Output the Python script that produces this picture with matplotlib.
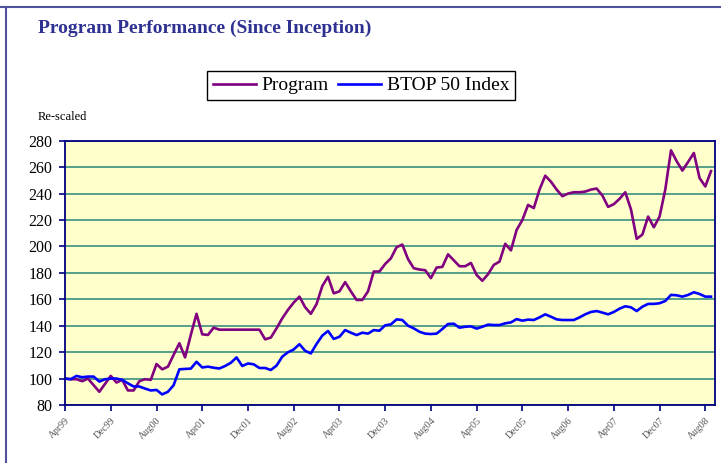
import matplotlib as ml
ml.use("Agg")
import matplotlib.pyplot as plt
from matplotlib.lines import Line2D
import numpy as np

################################################################################
# data (monthly, Apr99 - Sep08, re-scaled to 100)
################################################################################
program = [
    100, 99.5, 99.5, 98, 100, 95, 90, 96, 102, 97,
    99, 91, 91, 98, 99.5, 99, 111, 107, 109, 118,
    126.7, 116, 133, 149, 133.5, 133, 138.5, 137, 137, 137,
    137, 137, 137, 137, 137, 129.7, 131, 138, 145.6, 152,
    157.5, 162, 154, 149, 156.4, 170, 177, 164.5, 166, 173,
    166, 159.5, 159.5, 166, 181, 181, 186.7, 191, 199.4, 201.4,
    190.4, 183.5, 182.5, 182, 176, 184, 184.5, 194, 189.5, 185,
    185, 187.5, 178.4, 174, 179, 186, 188.5, 202, 197, 212.5,
    220, 231.4, 229, 243, 253.5, 249, 243, 238, 240, 241,
    241, 241.5, 243, 243.8, 238.5, 229.9, 232, 236, 241, 228,
    205.7, 209, 222.6, 214.5, 222.6, 243, 272.7, 264.4, 257.4, 264,
    270.7, 251.7, 245.4, 257,
]
btop = [
    100, 99.5, 102, 101, 101.5, 101.5, 97.7, 99.5, 100, 100,
    99, 96.4, 94, 94, 92.4, 91, 91.4, 88, 90, 95,
    107, 107.3, 107.5, 112.7, 108.4, 109, 108.2, 107.6, 109.5, 111.9,
    116, 109.5, 111.4, 110.8, 108, 108, 106.5, 109.8, 116.6, 119.9,
    122, 126, 121, 119, 126.2, 132.5, 136, 130, 131.6, 136.7,
    134.7, 132.9, 134.7, 134, 136.7, 136.2, 140.3, 141, 144.8, 144.3,
    140, 138, 135.4, 134, 133.7, 134, 137.5, 141.3, 141.5, 138.5,
    139.2, 139.5, 137.8, 139.2, 140.8, 140.5, 140.5, 141.8, 142.5, 145,
    143.8, 144.6, 144.3, 146.3, 148.6, 146.8, 144.8, 144.3, 144.3, 144.3,
    146.3, 148.6, 150.4, 151.1, 149.9, 148.6, 150.4, 152.9, 154.7, 153.9,
    151.1, 154.4, 156.5, 156.5, 157, 158.7, 163.3, 163, 162, 163.3,
    165.3, 164, 162, 162,
]
tick_labels = ['Apr99', 'Dec99', 'Aug00', 'Apr01', 'Dec01', 'Aug02', 'Apr03',
               'Dec03', 'Aug04', 'Apr05', 'Dec05', 'Aug06', 'Apr07', 'Dec07',
               'Aug08']

################################################################################
# style
################################################################################
SERIF = ['Liberation Serif', 'DejaVu Serif']
NAVY = '#000080'
GRID = '#3a9080'

fig = plt.figure(figsize=(7.21, 4.63), dpi=100)
ax = fig.add_axes([0.0902, 0.1253, 0.9015, 0.5708])
ax.set_facecolor('#ffffcc')

months = np.arange(len(program))
p1, = ax.plot(months, program, color='#800080', lw=1.9, label='Program')
p2, = ax.plot(months, btop, color='#0000ff', lw=1.9, label='BTOP 50 Index')

ax.set_ylim(80, 280)
ax.set_yticks(np.arange(80, 281, 20))
ax.set_xlim(0, 113.7)
ax.set_xticks(np.arange(0, 113, 8))
ax.set_xticklabels(tick_labels, rotation=45, ha='right', va='top',
                   rotation_mode='anchor', fontsize=7, color='#555555',
                   family=SERIF)
for lab in ax.get_yticklabels():
    lab.set_family(SERIF)
    lab.set_fontsize(11.5)
ax.yaxis.grid(True, color=GRID, lw=1.2)
ax.set_axisbelow(True)
for s in ax.spines.values():
    s.set_color(NAVY)
    s.set_linewidth(1.3)
ax.tick_params(axis='both', direction='out', color=NAVY, length=4, width=1.2)
ax.tick_params(axis='y', pad=5)
ax.tick_params(axis='x', pad=4)

# titre, legende, etiquette
fig.text(0.0527, 0.938, 'Program Performance (Since Inception)', fontsize=14,
         fontweight='bold', color='#2e3192', family=SERIF, va='center')
fig.text(0.0527, 0.747, 'Re-scaled', fontsize=9, family=SERIF, va='center')
leg = fig.legend(handles=[p1, p2], loc='center', bbox_to_anchor=(0.501, 0.815),
                 ncol=2, fancybox=False, framealpha=1, edgecolor='black',
                 prop={'family': SERIF, 'size': 14}, handlelength=2.2,
                 handletextpad=0.3, columnspacing=0.5, borderpad=0.3)
leg.get_frame().set_linewidth(1.0)

# cadre de la diapositive
fig.add_artist(Line2D([0, 1], [0.985, 0.985], color='#5050a0', lw=1.5))
fig.add_artist(Line2D([0.0083, 0.0083], [0, 0.985], color='#5050a0', lw=1.5))

plt.savefig('out.png', dpi=100)
plt.close()
